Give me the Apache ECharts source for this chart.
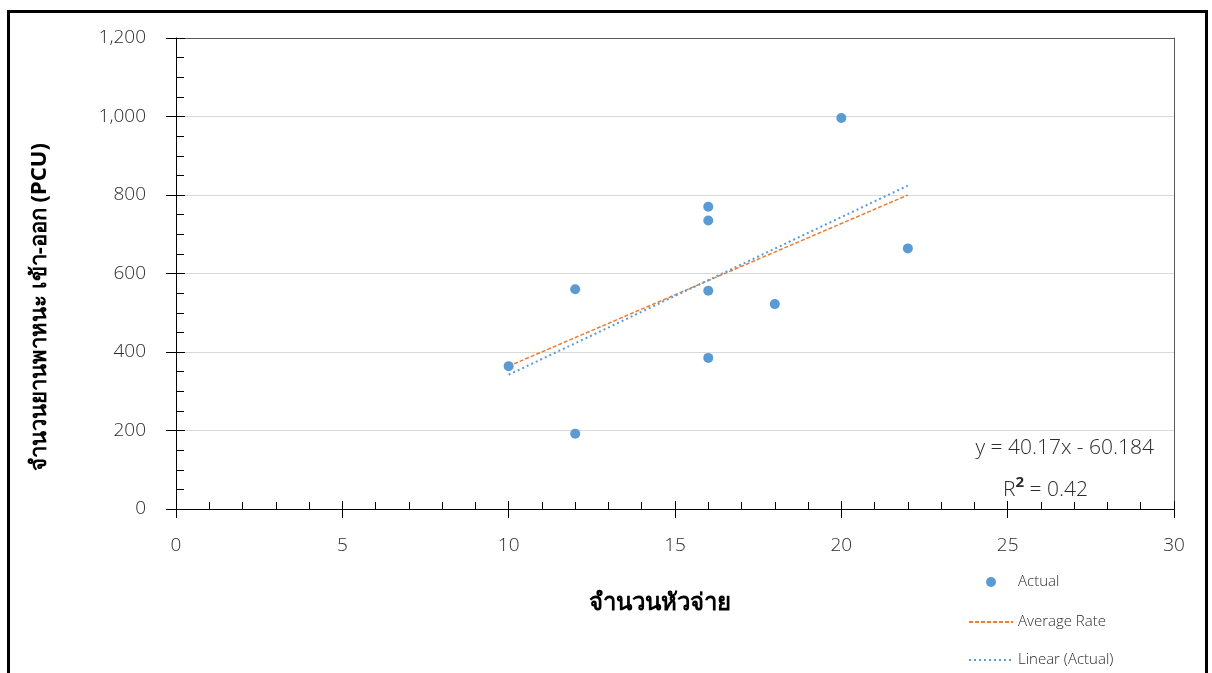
<!DOCTYPE html>
<html>
<head>
<meta charset="utf-8">
<script src="https://cdn.jsdelivr.net/npm/echarts@6/dist/echarts.min.js"></script>
<style>
html,body{margin:0;padding:0;background:#fff;}
#chart{width:1212px;height:673px;}
</style>
</head>
<body>
<div id="chart"></div>
<script>
// ---- data ----
const actualX = [10, 12, 12, 16, 16, 16, 16, 18, 20, 22];
const actualY = [364, 560, 192, 770, 735, 556, 385, 522, 996, 664];
const avgRateX = [10, 22];
const avgRateY = [364, 800];
const linearX = [10, 22];
const linearY = [342, 824];
const seriesNames = ['Actual', 'Average Rate', 'Linear (Actual)'];
const xTitle = 'จำนวนหัวจ่าย';
const yTitle = 'จำนวนยานพาหนะ เข้า-ออก (PCU)';
const eqText = 'y = 40.17x - 60.184';
const r2Value = '0.42';

const pairs = (xs, ys) => xs.map((x, i) => [x, ys[i]]);

const font = '"Open Sans", "Noto Sans", sans-serif';
const thaiFont = '"Noto Sans", "DejaVu Sans", sans-serif';
const txt = '#2b2b2b';
const lw = 300;

const chart = echarts.init(document.getElementById('chart'), null, {renderer: 'canvas'});
const grid = {left: 176, right: 38, top: 38, bottom: 164};
const hidden = {color: 'rgba(0,0,0,0)', borderWidth: 0, opacity: 0};
const legendTops = [574, 614, 652];
const legendLefts = [986, 968, 968];
const legendBase = {
  orient: 'vertical', padding: 0,
  itemWidth: 44, itemHeight: 10, itemGap: 0,
  textStyle: {fontSize: 15, lineHeight: 16, color: txt, fontFamily: font, fontWeight: lw}
};

chart.setOption({
  animation: false,
  backgroundColor: '#fff',
  grid: grid,
  legend: [
    Object.assign({}, legendBase, {left: legendLefts[0], top: legendTops[0], data: [{name: seriesNames[0], icon: 'circle'}]}),
    Object.assign({}, legendBase, {left: legendLefts[1], top: legendTops[1], data: [{name: seriesNames[1], itemStyle: hidden}]}),
    Object.assign({}, legendBase, {left: legendLefts[2], top: legendTops[2], data: [{name: seriesNames[2], itemStyle: hidden}]})
  ],
  xAxis: [
    {
      type: 'value', min: 0, max: 30, interval: 5, position: 'bottom',
      axisLine: {show: true, onZero: false, lineStyle: {color: '#000', width: 1}},
      axisTick: {show: true, inside: true, length: 8, lineStyle: {color: '#000'}},
      minorTick: {show: true, splitNumber: 5, length: 7, lineStyle: {color: '#000'}},
      axisLabel: {fontSize: 19, color: txt, fontFamily: font, fontWeight: lw, margin: 27},
      splitLine: {show: false}
    },
    {
      type: 'value', min: 0, max: 30, interval: 5, position: 'bottom',
      axisLine: {show: false},
      axisTick: {show: true, inside: false, length: 9, lineStyle: {color: '#000'}},
      axisLabel: {show: false}, splitLine: {show: false}
    },
    {
      type: 'value', min: 0, max: 30, interval: 5, position: 'top',
      axisLine: {show: true, onZero: false, lineStyle: {color: '#595959', width: 1}},
      axisTick: {show: false}, axisLabel: {show: false}, splitLine: {show: false}
    }
  ],
  yAxis: [
    {
      type: 'value', min: 0, max: 1200, interval: 200, position: 'left',
      axisLine: {show: true, onZero: false, lineStyle: {color: '#000', width: 1}},
      axisTick: {show: true, inside: true, length: 9, lineStyle: {color: '#000'}},
      minorTick: {show: true, splitNumber: 4, length: 8, lineStyle: {color: '#000'}},
      axisLabel: {fontSize: 19, color: txt, fontFamily: font, fontWeight: lw, margin: 30,
        formatter: v => v.toLocaleString('en-US')},
      splitLine: {show: true, lineStyle: {color: '#d9d9d9', width: 1}}
    },
    {
      type: 'value', min: 0, max: 1200, interval: 200, position: 'left',
      axisLine: {show: false},
      axisTick: {show: true, inside: false, length: 10, lineStyle: {color: '#000'}},
      axisLabel: {show: false}, splitLine: {show: false}
    },
    {
      type: 'value', min: 0, max: 1200, interval: 200, position: 'right',
      axisLine: {show: true, onZero: false, lineStyle: {color: '#595959', width: 1}},
      axisTick: {show: false}, axisLabel: {show: false}, splitLine: {show: false}
    }
  ],
  series: [
    {
      name: seriesNames[0], type: 'scatter', z: 5,
      symbol: 'circle', symbolSize: 10,
      itemStyle: {color: '#5B9BD5', opacity: 1},
      data: pairs(actualX, actualY)
    },
    {
      name: seriesNames[1], type: 'line', z: 3,
      symbol: 'none', showSymbol: false,
      lineStyle: {color: '#ED7D31', width: 1.5, type: [4, 2]},
      itemStyle: {color: '#ED7D31'},
      data: pairs(avgRateX, avgRateY)
    },
    {
      name: seriesNames[2], type: 'line', z: 4,
      symbol: 'none', showSymbol: false,
      lineStyle: {color: '#5B9BD5', width: 2, type: [2, 3]},
      itemStyle: {color: '#5B9BD5'},
      data: pairs(linearX, linearY)
    }
  ],
  graphic: [
    {
      type: 'rect', z: 100, silent: true,
      shape: {x: 8.5, y: 11.5, width: 1198, height: 720},
      style: {fill: 'none', stroke: '#000', lineWidth: 3}
    },
    {
      type: 'text', z: 50, x: 660, y: 603,
      style: {text: xTitle, fontSize: 24, fontWeight: 'bold', fill: '#000',
        fontFamily: thaiFont, align: 'center', verticalAlign: 'middle'}
    },
    {
      type: 'text', z: 50, x: 40, y: 307, rotation: Math.PI / 2,
      style: {text: yTitle, fontSize: 22, fontWeight: 'bold', fill: '#000',
        fontFamily: thaiFont, align: 'center', verticalAlign: 'middle'}
    },
    {
      type: 'text', z: 50, x: 1154, y: 448,
      style: {text: eqText, fontSize: 21, fill: txt, fontFamily: font, fontWeight: lw,
        align: 'right', verticalAlign: 'middle'}
    },
    {
      type: 'text', z: 50, x: 1003, y: 488,
      style: {
        text: '{r|R}{s|2}{r| = ' + r2Value + '}',
        fontFamily: font, fill: txt, align: 'left', verticalAlign: 'middle',
        rich: {
          r: {fontSize: 21, fill: txt, fontFamily: font, fontWeight: lw, verticalAlign: 'bottom'},
          s: {fontSize: 15, fontWeight: 'bold', fill: txt, fontFamily: font, padding: [0, 0, 10, 0], verticalAlign: 'bottom'}
        }
      }
    }
  ]
});
</script>
</body>
</html>
